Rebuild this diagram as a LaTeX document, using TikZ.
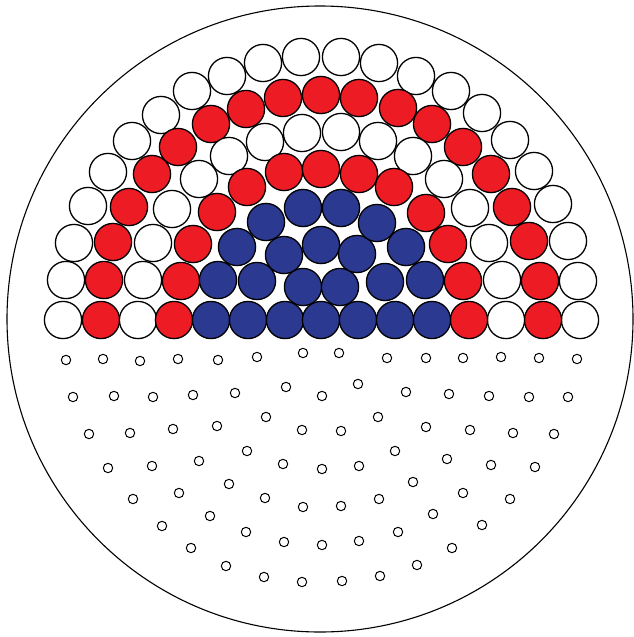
\documentclass[tikz,border=0pt]{standalone}
\usepackage{tikz}
\definecolor{beadRed}{HTML}{ED1C24}
\definecolor{beadBlue}{HTML}{2B3990}
\tikzset{
  shell/.style={draw=black, line width=1.1pt},
  bead/.style={draw=black, line width=1.3pt},
  whitebead/.style={bead, fill=white},
  redbead/.style={bead, fill=beadRed},
  bluebead/.style={bead, fill=beadBlue},
  pore/.style={draw=black, line width=1.0pt, fill=white}
}
\newcommand{\beadR}{18.6}
\newcommand{\poreR}{4.7}

\begin{document}
\begin{tikzpicture}[x=1pt,y=-1pt]
\useasboundingbox (0,0) rectangle (633,637);

% ------------------------------------------------------------
% OUTER SHELL
% ------------------------------------------------------------
\draw[shell] (320,319) circle (313);

% ------------------------------------------------------------
% UPPER HALF: rings of beads
% ------------------------------------------------------------
% outer white ring
\foreach \x/\y in {63/320,66/280,74/243,88/206,108/172,132/141,161/115,
                   192/91,227/76,263/63,301/57,341/57,379/63,416/76,451/91,
                   482/113,510/140,534/171,553/204,568/241,578/281,580/320}
  \draw[whitebead] (\x,\y) circle (\beadR);

% second ring (red)
\foreach \x/\y in {101/320,104/280,113/242,129/207,152/174,178/147,211/124,
                   246/109,283/98,321/95,359/98,398/108,432/124,463/147,
                   491/174,512/207,529/241,540/281,543/320}
  \draw[redbead] (\x,\y) circle (\beadR);

% third ring (white)
\foreach \x/\y in {138/320,143/280,153/243,172/209,199/179,229/156,265/142,
                   302/133,341/132,378/141,413/156,444/179,470/208,489/243,
                   502/280,506/320}
  \draw[whitebead] (\x,\y) circle (\beadR);

% fourth ring (red)
\foreach \x/\y in {174/320,181/281,193/244,217/212,247/187,284/172,321/169,
                   359/174,394/187,426/213,448/244,463/281,469/320}
  \draw[redbead] (\x,\y) circle (\beadR);

% blue core
\foreach \x/\y in {211/320,248/320,285/320,321/320,358/320,395/320,432/320,
                   218/280,257/281,303/287,340/287,385/282,425/280,
                   237/247,284/255,321/245,357/254,406/247,
                   266/222,303/208,341/208,377/223}
  \draw[bluebead] (\x,\y) circle (\beadR);

% ------------------------------------------------------------
% LOWER HALF: small pores
% ------------------------------------------------------------
\foreach \x/\y in {66/360,103/359,140/361,178/359,218/360,257/357,303/353,
                   339/353,387/358,426/358,463/358,501/357,539/358,577/359,
                   73/397,114/396,153/397,193/395,235/393,286/387,322/396,
                   358/384,406/392,449/394,489/396,529/397,568/397,
                   89/434,130/433,173/429,217/426,266/417,302/430,341/431,
                   378/417,426/427,470/430,513/433,554/434,
                   108/468,152/466,199/461,247/451,283/464,322/469,359/466,
                   395/451,447/459,491/465,535/467,
                   133/499,179/493,229/484,265/498,303/507,341/506,379/499,
                   413/482,463/493,510/499,
                   162/526,210/516,246/532,284/542,322/545,359/541,398/532,
                   433/514,482/525,
                   191/548,226/566,264/577,302/582,342/581,380/576,417/565,
                   452/548}
  \draw[pore] (\x,\y) circle (\poreR);

\end{tikzpicture}
\end{document}
